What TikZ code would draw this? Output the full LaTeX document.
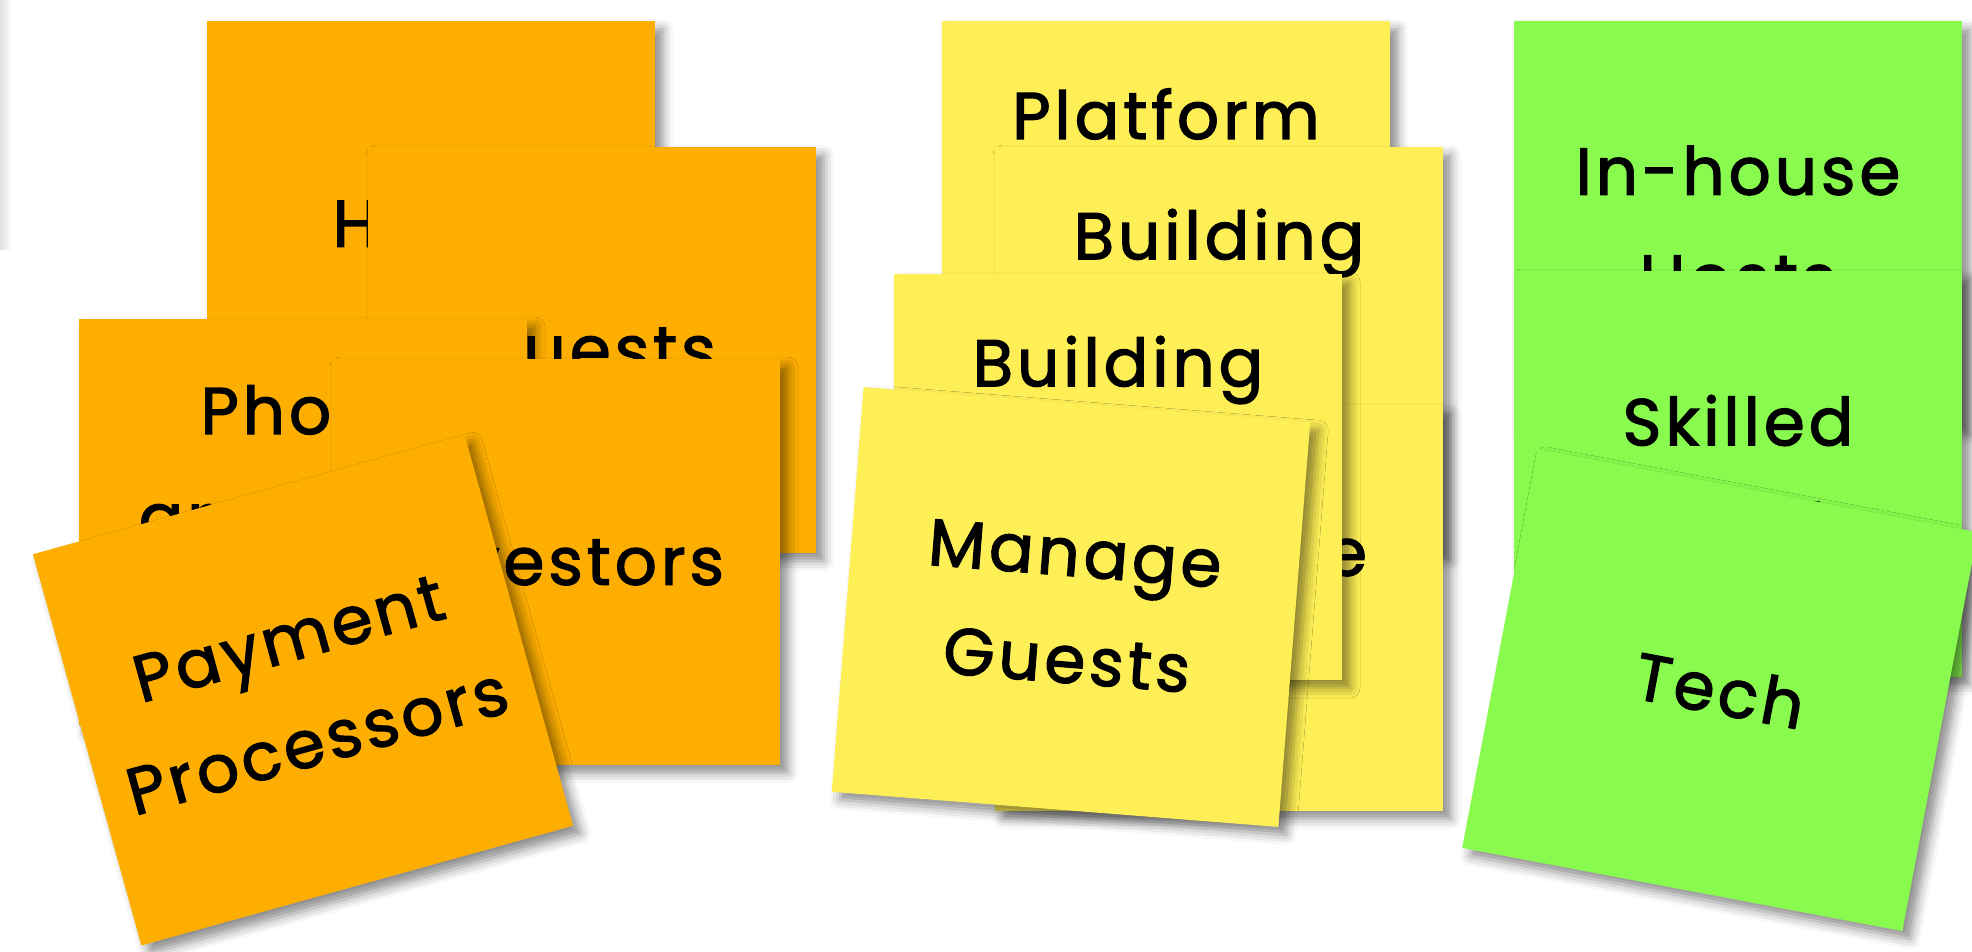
\documentclass[tikz,border=0pt]{standalone}
\usepackage{fontspec}
\newfontfamily\hand{Poppins}[FakeBold=2, LetterSpace=6]
\usepackage{tikz}
\usetikzlibrary{positioning,shadows.blur}

\definecolor{postorange}{HTML}{FDAE00}
\definecolor{postyellow}{HTML}{FFEF56}
\definecolor{postgreen}{HTML}{89FA4E}

\begin{document}
\begin{tikzpicture}[
  x=0.5pt, y=-0.5pt,
  every node/.style={font=\hand\fontsize{33}{53.5}\selectfont},
  note/.style={rectangle, inner sep=0pt, align=center,
               minimum width=224pt, minimum height=203pt,
               blur shadow={shadow xshift=4pt, shadow yshift=-4pt,
                            shadow blur radius=5pt, shadow opacity=45}},
  ink/.style={inner sep=0pt, align=center}
]
\useasboundingbox (0,0) rectangle (1972,952);

%% --- faint shadow at the left rim --------------------------
\fill[left color=black!12, right color=white] (0,0) rectangle (12,250);

%% --- Key partners (orange) ---------------------------------
\node[note, fill=postorange] (o1) at (431,224) {Hosts};
\node[note, fill=postorange] (o2) at (592,350) {Guests};
\node[note, fill=postorange] (o3) at (303,522) {};
\node[ink] (o3txt) at ([yshift=25pt]o3.center) {Photo\\graphers};
\node[note, fill=postorange] (o4) at (556,562) {};
\node[ink] (o4txt) at ([xshift=2pt]o4.center) {Investors};
\node[note, fill=postorange, rotate=15.5] (o5) at (303,690)
     {Payment\\Processors};

%% --- Key activities (yellow) -------------------------------
\node[note, fill=postyellow] (y1) at (1166,224) {};
\node[ink] (y1txt) at ([yshift=55pt]y1.center) {Platform};
\node[note, fill=postyellow] (y2) at (1219,350) {};
\node[ink] (y2txt) at ([yshift=53.5pt]y2.center) {Building};
\node[note, fill=postyellow] (y4) at (1219,608) {};
\node[ink, anchor=base east] (y4txt)
     at ([xshift=-38pt, yshift=-85.5pt]y4.north east) {Experience};
\node[note, fill=postyellow] (y3) at (1118,477) {};
\node[ink] (y3txt) at ([yshift=53.5pt]y3.center) {Building};
\node[note, fill=postyellow, rotate=-4.5] (y5) at (1071,607)
     {Manage\\Guests};

%% --- Key resources (green) ---------------------------------
\node[note, fill=postgreen] (g1) at (1738,224) {In-house\\Hosts};
\node[note, fill=postgreen] (g2) at (1738,474) {Skilled\\Staff};
\node[note, fill=postgreen, rotate=-10.7] (g3) at (1720,690) {Tech};

\end{tikzpicture}
\end{document}
